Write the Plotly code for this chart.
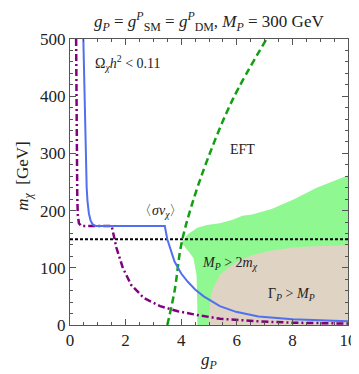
import plotly.graph_objects as go

# Relic-density curve (blue, solid)
blue_g = [0.48, 0.52, 0.56, 0.60, 0.63, 0.68, 0.74, 0.80, 0.88, 0.95, 3.41, 3.50, 3.76, 4.00, 4.23, 4.50, 4.81, 5.39, 5.97, 6.78, 8.00, 10.0]
blue_m = [500, 400, 292, 240, 216, 195, 183, 177, 174, 173, 173, 150, 111, 90, 76, 62, 50, 33, 23, 15, 10, 6.5]

# Purple dash-dot curve
purple_g = [0.22, 0.23, 0.24, 0.26, 0.28, 0.32, 0.40, 1.50, 1.67, 1.90, 2.20, 2.66, 3.24, 3.88, 4.63, 5.40, 6.70, 8.00, 10.0]
purple_m = [500, 380, 290, 230, 193, 178, 173, 173, 135, 100, 70, 47, 33, 24, 17, 11, 6.5, 4.0, 2.5]

# EFT validity (green dashed)
eft_g = [3.50, 3.76, 4.00, 4.35, 4.95, 5.85, 7.07]
eft_m = [0, 59, 140, 205, 290, 394, 500]

# M_P > 2 m_chi region (light green)
green_g = [4.58, 4.58, 4.55, 4.44, 4.11, 4.00, 4.23, 4.58, 4.92, 5.39, 5.85, 6.20, 6.55, 7.25, 8.06, 8.87, 9.92, 10.0, 10.0]
green_m = [0, 30, 88, 117, 138, 143, 158, 170, 175, 178, 184, 191, 193, 203, 220, 240, 260, 262, 0]

# Gamma_P > M_P region (beige)
beige_g = [4.98, 5.02, 5.10, 5.39, 5.97, 6.55, 7.20, 8.06, 9.00, 10.0, 10.0]
beige_m = [0, 30, 59, 88, 110, 122, 130, 136, 138, 139, 0]

# Horizontal line
hline_m = 150
x_range = [0, 10]
y_range = [0, 500]

FONT = "Liberation Serif"

fig = go.Figure()
fig.add_trace(go.Scatter(x=green_g, y=green_m, fill="toself", mode="none",
                         fillcolor="#90f890", hoverinfo="skip"))
fig.add_trace(go.Scatter(x=beige_g, y=beige_m, fill="toself", mode="none",
                         fillcolor="#dfd3c3", hoverinfo="skip"))
fig.add_trace(go.Scatter(x=x_range, y=[hline_m, hline_m], mode="lines",
                         line=dict(color="black", width=2, dash="3px,2px")))
fig.add_trace(go.Scatter(x=eft_g, y=eft_m, mode="lines", line_shape="spline",
                         line=dict(color="#10a010", width=2.5, dash="7px,4px")))
fig.add_trace(go.Scatter(x=purple_g, y=purple_m, mode="lines",
                         line=dict(color="#800080", width=2.5, dash="7px,3px,2px,3px")))
fig.add_trace(go.Scatter(x=blue_g, y=blue_m, mode="lines",
                         line=dict(color="#5070f0", width=2)))

ann = [
    dict(x=0.82, y=458, text="Ω<sub><i>χ</i></sub><i>h</i><sup>2</sup> < 0.11", xanchor="left"),
    dict(x=3.24, y=199, text="〈<i>σv</i><sub><i>χ</i></sub>〉"),
    dict(x=6.2, y=306, text="EFT"),
    dict(x=5.77, y=108, text="<i>M<sub>P</sub></i> > 2<i>m<sub>χ</sub></i>"),
    dict(x=7.98, y=53, text="Γ<sub><i>P</i></sub> > <i>M<sub>P</sub></i>"),
]
for a in ann:
    a.setdefault("xanchor", "center")
    fig.add_annotation(x=a["x"], y=a["y"], text=a["text"], xanchor=a["xanchor"],
                       yanchor="middle", showarrow=False,
                       font=dict(family=FONT, size=14, color="#222"))

fig.add_annotation(xref="paper", yref="paper", x=0.5, y=1.0, yshift=18,
                   text="<i>g<sub>P</sub></i> = <i>g</i><sup><i>P</i></sup><sub>SM</sub> = <i>g</i><sup><i>P</i></sup><sub>DM</sub>, <i>M<sub>P</sub></i> = 300 GeV",
                   showarrow=False, yanchor="middle",
                   font=dict(family=FONT, size=17, color="#222"))
fig.add_annotation(xref="paper", yref="paper", x=-0.164, y=0.52,
                   text="<i>m<sub>χ</sub></i>  [GeV]", textangle=-90,
                   showarrow=False, xanchor="center", yanchor="middle",
                   font=dict(family=FONT, size=17, color="#222"))
fig.add_annotation(xref="paper", yref="paper", x=0.5, y=-0.125,
                   text="<i>g<sub>P</sub></i>",
                   showarrow=False, xanchor="center", yanchor="middle",
                   font=dict(family=FONT, size=17, color="#222"))

axis_common = dict(showgrid=False, zeroline=False, showline=True, linecolor="#555",
                   linewidth=1, mirror="allticks", ticks="inside", ticklen=6,
                   tickcolor="#555", tickwidth=1,
                   tickfont=dict(family=FONT, size=17, color="#222"))
fig.update_xaxes(range=x_range, dtick=2, tick0=0,
                 minor=dict(dtick=0.5, ticks="inside", ticklen=3, tickcolor="#555"),
                 **axis_common)
fig.update_yaxes(range=y_range, dtick=100, tick0=0,
                 minor=dict(dtick=20, ticks="inside", ticklen=3, tickcolor="#555"),
                 **axis_common)

fig.update_layout(width=359, height=374, showlegend=False,
                  margin=dict(l=62, r=10, t=31, b=57),
                  font=dict(family=FONT),
                  plot_bgcolor="white", paper_bgcolor="white")
fig.write_html("out.html")
